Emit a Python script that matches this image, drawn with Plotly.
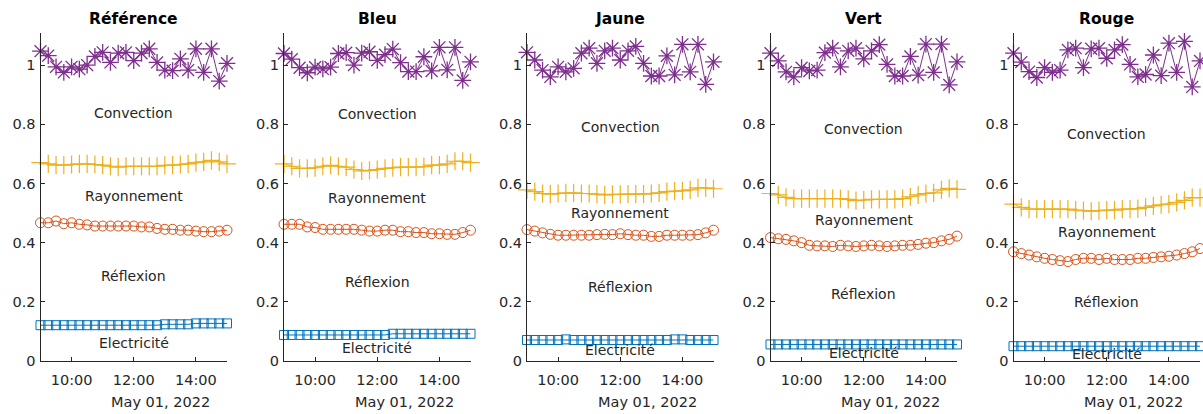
import plotly.graph_objects as go

# ---------------- data ----------------
TIMES = [
    "2022-05-01 09:00", "2022-05-01 09:15", "2022-05-01 09:30", "2022-05-01 09:45",
    "2022-05-01 10:00", "2022-05-01 10:15", "2022-05-01 10:30", "2022-05-01 10:45",
    "2022-05-01 11:00", "2022-05-01 11:15", "2022-05-01 11:30", "2022-05-01 11:45",
    "2022-05-01 12:00", "2022-05-01 12:15", "2022-05-01 12:30", "2022-05-01 12:45",
    "2022-05-01 13:00", "2022-05-01 13:15", "2022-05-01 13:30", "2022-05-01 13:45",
    "2022-05-01 14:00", "2022-05-01 14:15", "2022-05-01 14:30", "2022-05-01 14:45",
    "2022-05-01 15:00",
]
TICK_TIMES = ["2022-05-01 10:00", "2022-05-01 12:00", "2022-05-01 14:00"]
TICK_LABELS = ["10:00", "12:00", "14:00"]
DATE_LABEL = "May 01, 2022"
PANELS = ["Référence", "Bleu", "Jaune", "Vert", "Rouge"]
LABELS = ["Convection", "Rayonnement", "Réflexion", "Electricité"]

# Convection (purple asterisks)
conv_ref = [1.047, 1.032, 0.994, 0.975, 0.994, 0.986, 1.000, 1.029, 1.043, 1.009, 1.040, 1.043, 1.015,
            1.040, 1.055, 1.009, 0.983, 0.981, 1.021, 0.983, 1.055, 0.975, 1.055, 0.946, 1.006]
conv_bleu = [1.039, 1.020, 0.991, 0.974, 0.993, 0.987, 0.993, 1.039, 1.042, 1.000, 1.040, 1.045, 1.016,
             1.035, 1.054, 1.008, 0.978, 0.978, 1.028, 0.980, 1.060, 0.984, 1.060, 0.948, 1.011]
conv_jaune = [1.043, 1.017, 0.983, 0.960, 0.994, 0.977, 0.989, 1.040, 1.057, 1.006, 1.048, 1.057, 1.017,
              1.048, 1.063, 1.006, 0.963, 0.963, 1.031, 0.967, 1.070, 0.977, 1.070, 0.935, 1.011]
conv_vert = [1.040, 1.014, 0.977, 0.960, 0.991, 0.980, 0.983, 1.042, 1.057, 0.994, 1.048, 1.057, 1.021,
             1.048, 1.069, 1.002, 0.963, 0.963, 1.029, 0.966, 1.071, 0.975, 1.071, 0.933, 1.011]
conv_rouge = [1.040, 1.010, 0.978, 0.958, 0.991, 0.975, 0.983, 1.051, 1.057, 0.991, 1.055, 1.057, 1.023,
              1.051, 1.069, 1.002, 0.960, 0.968, 1.034, 0.964, 1.074, 0.975, 1.080, 0.926, 1.014]

# Rayonnement (yellow plus)
ray_ref = [0.670, 0.666, 0.662, 0.662, 0.664, 0.666, 0.666, 0.664, 0.662, 0.658, 0.655, 0.658, 0.658,
           0.658, 0.658, 0.658, 0.661, 0.662, 0.664, 0.666, 0.670, 0.673, 0.678, 0.673, 0.666]
ray_bleu = [0.666, 0.658, 0.651, 0.651, 0.653, 0.658, 0.661, 0.658, 0.655, 0.647, 0.642, 0.644, 0.647,
            0.651, 0.653, 0.655, 0.655, 0.655, 0.657, 0.662, 0.662, 0.666, 0.675, 0.675, 0.670]
ray_jaune = [0.578, 0.572, 0.566, 0.564, 0.566, 0.568, 0.568, 0.566, 0.566, 0.564, 0.561, 0.563, 0.563,
             0.564, 0.564, 0.564, 0.566, 0.568, 0.572, 0.574, 0.575, 0.578, 0.585, 0.585, 0.582]
ray_vert = [0.566, 0.561, 0.553, 0.549, 0.549, 0.549, 0.549, 0.549, 0.549, 0.549, 0.546, 0.542, 0.544,
            0.546, 0.546, 0.546, 0.546, 0.549, 0.555, 0.561, 0.566, 0.568, 0.578, 0.583, 0.580]
ray_rouge = [0.530, 0.519, 0.513, 0.513, 0.513, 0.513, 0.513, 0.513, 0.510, 0.508, 0.506, 0.508, 0.510,
             0.510, 0.513, 0.513, 0.515, 0.519, 0.524, 0.528, 0.530, 0.536, 0.543, 0.552, 0.552]

# Réflexion (red circles)
ref_ref = [0.467, 0.467, 0.473, 0.464, 0.467, 0.462, 0.460, 0.456, 0.456, 0.456, 0.456, 0.456, 0.456,
           0.453, 0.453, 0.448, 0.445, 0.445, 0.442, 0.442, 0.439, 0.437, 0.437, 0.439, 0.442]
ref_bleu = [0.462, 0.462, 0.462, 0.453, 0.451, 0.445, 0.445, 0.445, 0.445, 0.445, 0.442, 0.439, 0.439,
            0.442, 0.442, 0.437, 0.437, 0.434, 0.434, 0.430, 0.430, 0.428, 0.428, 0.434, 0.442]
ref_jaune = [0.444, 0.439, 0.433, 0.428, 0.425, 0.425, 0.425, 0.425, 0.425, 0.427, 0.428, 0.427, 0.430,
             0.427, 0.425, 0.425, 0.421, 0.421, 0.425, 0.425, 0.425, 0.425, 0.427, 0.433, 0.442]
ref_vert = [0.417, 0.413, 0.411, 0.406, 0.400, 0.391, 0.389, 0.389, 0.387, 0.391, 0.389, 0.387, 0.389,
            0.391, 0.389, 0.387, 0.389, 0.391, 0.391, 0.394, 0.398, 0.400, 0.406, 0.411, 0.422]
ref_rouge = [0.369, 0.363, 0.358, 0.352, 0.347, 0.343, 0.339, 0.336, 0.343, 0.347, 0.347, 0.343, 0.347,
             0.343, 0.343, 0.343, 0.347, 0.347, 0.350, 0.352, 0.354, 0.358, 0.363, 0.369, 0.380]

# Electricité (blue squares)
ele_ref = [0.121, 0.121, 0.121, 0.121, 0.121, 0.121, 0.121, 0.121, 0.121, 0.121, 0.121, 0.121, 0.121,
           0.121, 0.121, 0.121, 0.124, 0.124, 0.124, 0.124, 0.127, 0.127, 0.127, 0.127, 0.127]
ele_bleu = [0.088, 0.088, 0.088, 0.088, 0.088, 0.088, 0.088, 0.088, 0.088, 0.088, 0.088, 0.088, 0.088,
            0.088, 0.092, 0.092, 0.092, 0.092, 0.092, 0.092, 0.092, 0.092, 0.092, 0.092, 0.092]
ele_jaune = [0.071, 0.071, 0.071, 0.071, 0.071, 0.073, 0.071, 0.071, 0.071, 0.071, 0.071, 0.071, 0.071,
             0.071, 0.071, 0.071, 0.071, 0.071, 0.071, 0.073, 0.073, 0.071, 0.071, 0.071, 0.071]
ele_vert = [0.056, 0.056, 0.056, 0.056, 0.056, 0.056, 0.056, 0.056, 0.056, 0.056, 0.056, 0.056, 0.056,
            0.056, 0.056, 0.056, 0.056, 0.056, 0.056, 0.056, 0.056, 0.056, 0.056, 0.056, 0.056]
ele_rouge = [0.050, 0.050, 0.050, 0.050, 0.050, 0.050, 0.050, 0.050, 0.050, 0.050, 0.050, 0.050, 0.050,
             0.050, 0.050, 0.050, 0.050, 0.050, 0.050, 0.050, 0.050, 0.050, 0.050, 0.050, 0.050]

SERIES = {
    "Référence": [conv_ref, ray_ref, ref_ref, ele_ref],
    "Bleu": [conv_bleu, ray_bleu, ref_bleu, ele_bleu],
    "Jaune": [conv_jaune, ray_jaune, ref_jaune, ele_jaune],
    "Vert": [conv_vert, ray_vert, ref_vert, ele_vert],
    "Rouge": [conv_rouge, ray_rouge, ref_rouge, ele_rouge],
}

# ---------------- styles ----------------
W, H = 1203, 414
COLORS = ["#7E2F8E", "#EDB120", "#D95319", "#0072BD"]
SYMBOLS = ["asterisk-open", "cross-thin-open", "circle-open", "square-open"]
SIZES = [14, 13, 10, 9]
MLW = [1.3, 1.2, 1.0, 1.0]
AX_COLOR = "#262626"
FONT = "DejaVu Sans"
LEFTS = [40.5, 284.0, 527.0, 770.5, 1013.5]
PW = 186.5
Y_BOTTOM_PX, Y_TOP_PX = 361.0, 32.5

fig = go.Figure()
annotations = []

for i, name in enumerate(PANELS):
    k = "" if i == 0 else str(i + 1)
    xa, ya = "x" + k, "y" + k
    vals = SERIES[name]
    for j in range(4):
        fig.add_trace(go.Scatter(
            x=TIMES, y=vals[j], xaxis=xa, yaxis=ya, mode="lines+markers",
            line=dict(color=COLORS[j], width=1),
            marker=dict(symbol=SYMBOLS[j], size=SIZES[j], color=COLORS[j],
                        line=dict(color=COLORS[j], width=MLW[j])),
            cliponaxis=False, showlegend=False, hoverinfo="skip",
        ))
    x0 = LEFTS[i] / W
    x1 = (LEFTS[i] + PW) / W
    fig.layout["xaxis" + k] = dict(
        domain=[x0, x1], anchor=ya, type="date", automargin=False,
        range=[TIMES[0], TIMES[-1]],
        tickvals=TICK_TIMES, ticktext=TICK_LABELS,
        ticks="inside", ticklen=4, tickcolor=AX_COLOR,
        showline=True, linecolor=AX_COLOR, linewidth=1,
        showgrid=False, zeroline=False,
        tickfont=dict(family=FONT, size=14.5, color=AX_COLOR),
        ticklabelstandoff=6,
    )
    fig.layout["yaxis" + k] = dict(
        domain=[1 - Y_BOTTOM_PX / H, 1 - Y_TOP_PX / H], anchor=xa, automargin=False,
        range=[0, 1.11], tickmode="array",
        tickvals=[0, 0.2, 0.4, 0.6, 0.8, 1.0],
        ticktext=["0", "0.2", "0.4", "0.6", "0.8", "1"],
        ticks="inside", ticklen=4, tickcolor=AX_COLOR,
        showline=True, linecolor=AX_COLOR, linewidth=1,
        showgrid=False, zeroline=False,
        tickfont=dict(family=FONT, size=14.5, color=AX_COLOR),
        ticklabelstandoff=1,
    )
    # title
    annotations.append(dict(
        text="<b>" + name + "</b>", xref="paper", yref="paper",
        x=(x0 + x1) / 2, y=1 - 19 / H, xanchor="center", yanchor="middle",
        showarrow=False, font=dict(family=FONT, size=15.5, color="#000000"),
    ))
    # date label
    annotations.append(dict(
        text=DATE_LABEL, xref=xa, yref="paper", x=TIMES[-1], y=1 - 402 / H,
        xanchor="right", yanchor="middle", xshift=-15, showarrow=False,
        font=dict(family=FONT, size=14.5, color=AX_COLOR),
    ))
    # band labels: midway between neighbouring series means
    means = [sum(v) / len(v) for v in vals] + [0.0]
    for j in range(4):
        ymid = (means[j] + means[j + 1]) / 2
        annotations.append(dict(
            text=LABELS[j], xref=xa, yref=ya, x=TICK_TIMES[1], y=ymid,
            xanchor="center", yanchor="middle", showarrow=False,
            font=dict(family=FONT, size=14, color=AX_COLOR),
        ))

fig.update_layout(
    width=W, height=H, margin=dict(l=0, r=0, t=0, b=0),
    paper_bgcolor="white", plot_bgcolor="white",
    annotations=annotations,
)

fig.write_html("out.html", config={"displayModeBar": False, "staticPlot": True},
               post_script="document.body.style.margin='0';")
